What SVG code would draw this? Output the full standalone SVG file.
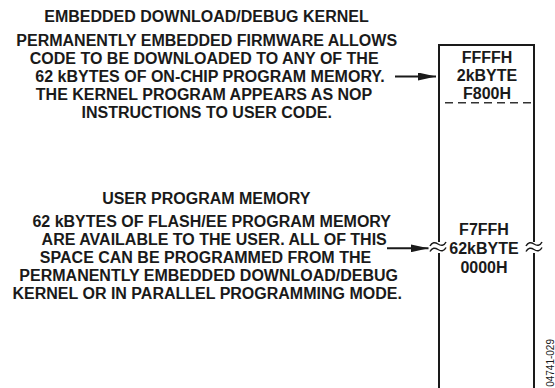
<svg xmlns="http://www.w3.org/2000/svg" width="555" height="388" viewBox="0 0 555 388">
  <style>
    .t { font-family: "Liberation Sans", Arial, sans-serif; font-weight: bold; font-size: 16px; fill: #1a1a1a; text-anchor: middle; }
    .b { font-family: "Liberation Sans", Arial, sans-serif; font-weight: bold; font-size: 16px; fill: #1a1a1a; text-anchor: middle; }
    .id { font-family: "Liberation Sans", Arial, sans-serif; font-size: 10px; fill: #1a1a1a; text-anchor: end; }
    .edge { stroke: #1a1a1a; stroke-width: 2; fill: none; }
    .conn { stroke: #1a1a1a; stroke-width: 2; fill: none; marker-end: url(#ah); }
    .wave { stroke: #1a1a1a; stroke-width: 1.5; fill: none; }
  </style>
  <defs>
    <marker id="ah" markerUnits="userSpaceOnUse" markerWidth="18" markerHeight="8" refX="18" refY="4" orient="auto">
      <path d="M0,0 L18,4 L0,8 Z" fill="#1a1a1a"/>
    </marker>
  </defs>
  <rect width="555" height="388" fill="#ffffff"/>

  <g id="kernel-text">
    <text class="t" x="206.5" y="22">EMBEDDED DOWNLOAD/DEBUG KERNEL</text>
    <text class="t" x="206.7" y="45.5">PERMANENTLY EMBEDDED FIRMWARE ALLOWS</text>
    <text class="t" x="204.2" y="63.5">CODE TO BE DOWNLOADED TO ANY OF THE</text>
    <text class="t" x="210" y="81.5">62 kBYTES OF ON-CHIP PROGRAM MEMORY.</text>
    <text class="t" x="204" y="99.5">THE KERNEL PROGRAM APPEARS AS NOP</text>
    <text class="t" x="206.7" y="117.5">INSTRUCTIONS TO USER CODE.</text>
  </g>

  <g id="user-text">
    <text class="t" x="206.3" y="203.5">USER PROGRAM MEMORY</text>
    <text class="t" x="211.7" y="227">62 kBYTES OF FLASH/EE PROGRAM MEMORY</text>
    <text class="t" x="214.2" y="245">ARE AVAILABLE TO THE USER. ALL OF THIS</text>
    <text class="t" x="205.5" y="263">SPACE CAN BE PROGRAMMED FROM THE</text>
    <text class="t" x="208.7" y="281">PERMANENTLY EMBEDDED DOWNLOAD/DEBUG</text>
    <text class="t" x="207.2" y="299">KERNEL OR IN PARALLEL PROGRAMMING MODE.</text>
  </g>

  <g id="memory-map">
    <path class="edge" d="M439,390 V45 H534 V390"/>
    <line x1="445" y1="102.7" x2="534" y2="102.7" stroke="#333" stroke-width="1.6" stroke-dasharray="8 5"/>
    <text class="b" x="487" y="62.5">FFFFH</text>
    <text class="b" x="487" y="81">2kBYTE</text>
    <text class="b" x="487" y="99">F800H</text>
    <text class="b" x="484" y="235">F7FFH</text>
    <text class="b" x="484" y="254">62kBYTE</text>
    <text class="b" x="484" y="273">0000H</text>
  </g>

  <g id="breaks">
    <rect x="436" y="242" width="6" height="11" fill="#ffffff"/>
    <rect x="531" y="242" width="6" height="11" fill="#ffffff"/>
    <path class="wave" d="M430,246 C432,242 435,242 438,244 C441,246 444,246 446,242"/>
    <path class="wave" d="M430,251.5 C432,247.5 435,247.5 438,249.5 C441,251.5 444,251.5 446,247.5"/>
    <path class="wave" d="M526,246 C528,242 531,242 534,244 C537,246 540,246 542,242"/>
    <path class="wave" d="M526,251.5 C528,247.5 531,247.5 534,249.5 C537,251.5 540,251.5 542,247.5"/>
  </g>

  <g id="connectors">
    <line class="conn" x1="395" y1="76.5" x2="436" y2="76.5"/>
    <line class="conn" x1="387" y1="248.3" x2="428.5" y2="248.3"/>
  </g>

  <text class="id" transform="translate(554,339) rotate(-90)">04741-029</text>
</svg>
